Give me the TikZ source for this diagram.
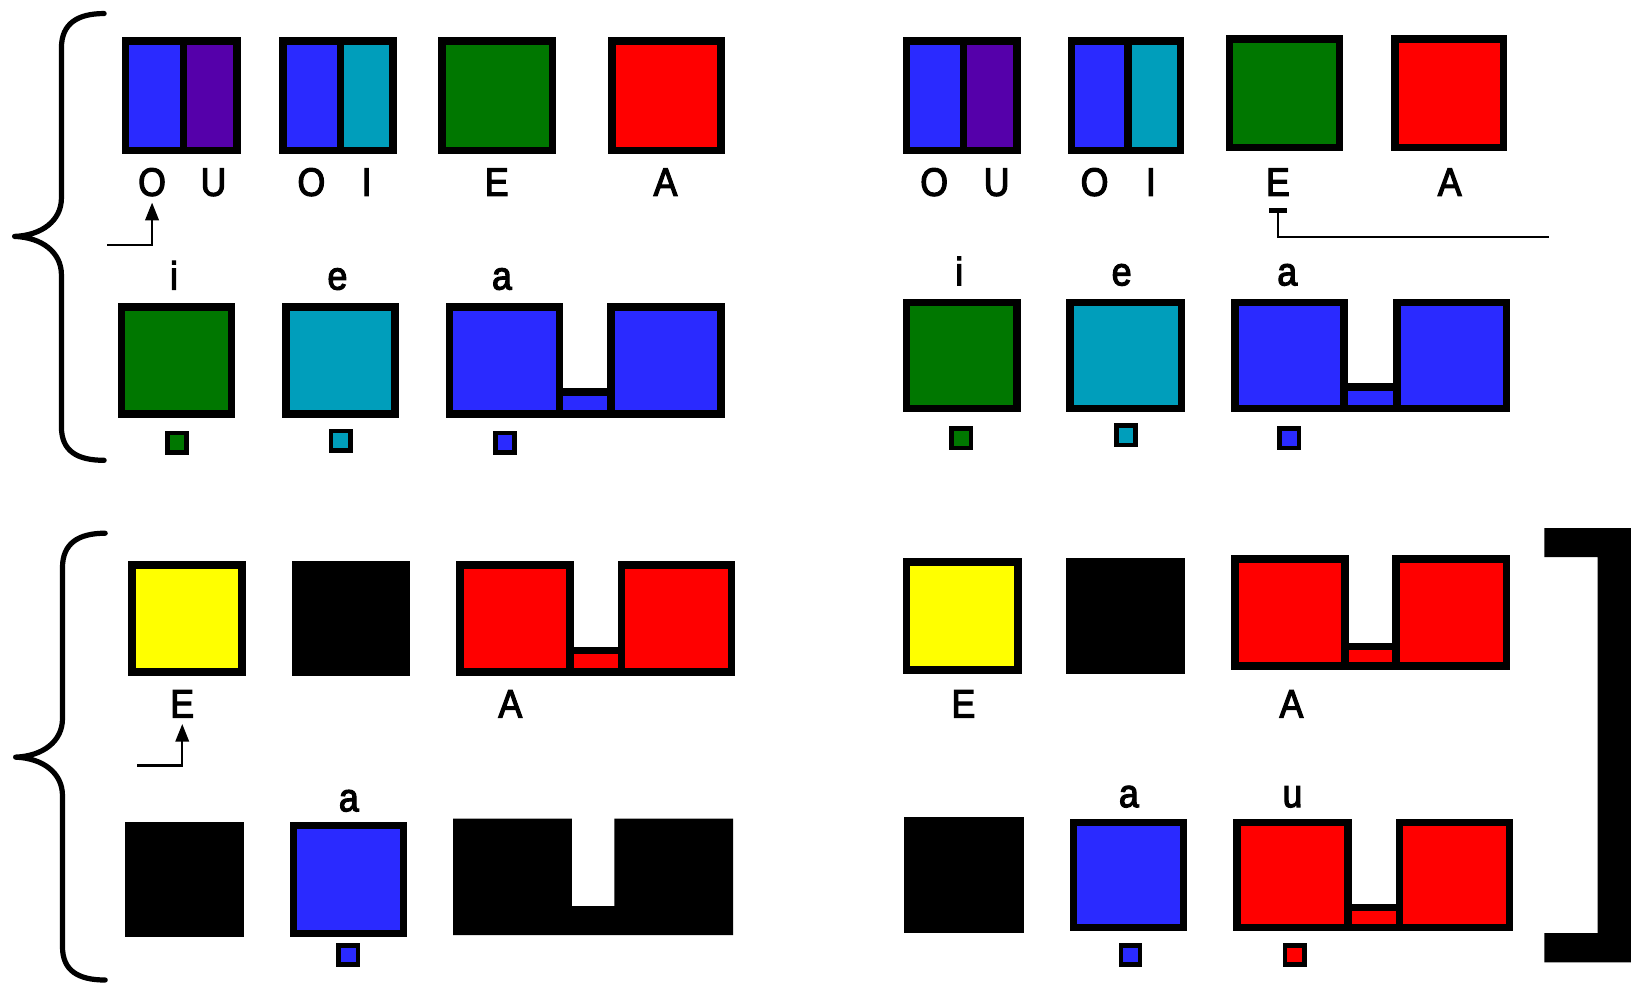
\documentclass[tikz,border=0pt]{standalone}
\usepackage{fontspec}
\setmainfont{Liberation Sans}
\newfontfamily\lblfont[FakeStretch=0.9,FakeBold=3]{Liberation Sans}
\usetikzlibrary{arrows.meta}
\definecolor{vblue}{HTML}{2A2AFF}
\definecolor{vpurple}{HTML}{5500AA}
\definecolor{vteal}{HTML}{009EBB}
\definecolor{vgreen}{HTML}{007700}
\definecolor{vred}{HTML}{FF0000}
\definecolor{vyellow}{HTML}{FFFF00}
% name, x1, y1, x2, y2, fill   (outer edges; border 7.2)
\newcommand\cellnode[6]{%
  \node[cell,fill=#6,anchor=north west,
    minimum width={((#4)-(#2)-7.2)*1pt},minimum height={((#5)-(#3)-7.2)*1pt}]
    (#1) at ({(#2)+3.6},{(#3)+3.6}) {};}
% name, x1, y1, x2, y2, xmid, left colour, right colour
\newcommand\splitnode[8]{%
  \fill[#7] ({(#2)+3},{(#3)+3}) rectangle (#6,{(#5)-3});
  \fill[#8] (#6,{(#3)+3}) rectangle ({(#4)-3},{(#5)-3});
  \cellnode{#1}{#2}{#3}{#4}{#5}{none}
  \draw[line width=7.2pt] (#6,#3) -- (#6,#5);}
% name, x1, y1, x2, y2, x3, x4, conn top, colour
\newcommand\dblnode[9]{%
  \cellnode{#1-c}{#4-7.2}{#8}{#6+7.2}{#5}{#9}
  \cellnode{#1-l}{#2}{#3}{#4}{#5}{#9}
  \cellnode{#1-r}{#6}{#3}{#7}{#5}{#9}}
% name, x1, y1, x2, y2
\newcommand\blacknode[5]{%
  \node[fill=black,draw=none,inner sep=0pt,outer sep=0pt,anchor=north west,
    minimum width={((#4)-(#2))*1pt},minimum height={((#5)-(#3))*1pt}]
    (#1) at (#2,#3) {};}
\begin{document}
\begin{tikzpicture}[x=1pt,y=-1pt,
  cell/.style={draw=black,line width=7.2pt,inner sep=0pt,outer sep=0pt},
  tiny/.style={draw=black,line width=4.5pt,inner sep=0pt,minimum size=18.5pt},
  lbl/.style={anchor=base,inner sep=0pt,font=\lblfont\fontsize{38}{38}\selectfont},
  conn/.style={line width=2pt},
  brace/.style={line width=5pt,line cap=round,line join=round},
]
\useasboundingbox (0,0) rectangle (1568,949);

% ================= top left =================
\draw[brace] (100,13) .. controls (74,13) and (59,23) .. (59,46) -- (59,190)
  .. controls (59,212) and (40,226) .. (14,227)
  .. controls (40,228) and (59,242) .. (59,264) -- (59,410)
  .. controls (59,433) and (74,442) .. (100,442);
\splitnode{tl-ou}{117}{36}{231}{148}{176}{vblue}{vpurple}
\splitnode{tl-oi}{268}{36}{381}{148}{327}{vblue}{vteal}
\cellnode{tl-e}{421}{36}{534}{148}{vgreen}
\cellnode{tl-a}{584}{36}{696}{148}{vred}
\node[lbl] (tl-lO1) at (146,188) {O};
\node[lbl] (tl-lU)  at (205,188) {U};
\node[lbl] (tl-lO2) at (299,188) {O};
\node[lbl] (tl-lI)  at (352,188) {I};
\node[lbl] (tl-lE)  at (477,188) {E};
\node[lbl] (tl-lA)  at (639,188) {A};
\coordinate (tl-start) at (103,235);
\draw[conn,-{Triangle[width=13pt,length=17pt]}] (tl-start) -| ([yshift=-6pt]tl-lO1.south);
\node[lbl] (tl-li) at (167,278) {i};
\node[lbl] (tl-le) at (324,278) {e};
\node[lbl] (tl-la) at (482,278) {a};
\cellnode{tl-g}{113}{291}{226}{401}{vgreen}
\cellnode{tl-t}{271}{291}{383}{401}{vteal}
\dblnode{tl-b}{428}{291}{541}{401}{583}{696}{373}{vblue}
\node[tiny,fill=vgreen] (tl-sg) at (170,425) {};
\node[tiny,fill=vteal]  (tl-st) at (327,423) {};
\node[tiny,fill=vblue]  (tl-sb) at (485,425) {};

% ================= top right =================
\splitnode{tr-ou}{867}{36}{980}{148}{925}{vblue}{vpurple}
\splitnode{tr-oi}{1025}{36}{1137}{148}{1083}{vblue}{vteal}
\cellnode{tr-e}{1177}{34}{1290}{145}{vgreen}
\cellnode{tr-a}{1336}{34}{1447}{145}{vred}
\node[lbl] (tr-lO1) at (897,188) {O};
\node[lbl] (tr-lU)  at (957,188) {U};
\node[lbl] (tr-lO2) at (1051,188) {O};
\node[lbl] (tr-lI)  at (1105,188) {I};
\node[lbl] (tr-lE)  at (1227,188) {E};
\node[lbl] (tr-lA)  at (1392,188) {A};
\coordinate (tr-end) at (1487,228);
\draw[conn,{Bar[width=17pt,line width=4.5pt]}-] ([yshift=-12pt]tr-lE.south) |- (tr-end);
\node[lbl] (tr-li) at (921,274) {i};
\node[lbl] (tr-le) at (1077,274) {e};
\node[lbl] (tr-la) at (1236,274) {a};
\cellnode{tr-g}{867}{287}{980}{396}{vgreen}
\cellnode{tr-t}{1024}{287}{1138}{396}{vteal}
\dblnode{tr-b}{1182}{287}{1294}{396}{1338}{1450}{368}{vblue}
\node[tiny,fill=vgreen] (tr-sg) at (923,421) {};
\node[tiny,fill=vteal]  (tr-st) at (1081,418) {};
\node[tiny,fill=vblue]  (tr-sb) at (1238,421) {};

% ================= bottom left =================
\draw[brace] (101,512) .. controls (75,512) and (60,522) .. (60,545) -- (60,690)
  .. controls (60,712) and (41,726) .. (15,727)
  .. controls (41,728) and (60,742) .. (60,764) -- (60,909)
  .. controls (60,932) and (75,941) .. (101,941);
\cellnode{bl-y}{123}{539}{236}{649}{vyellow}
\blacknode{bl-k}{280}{539}{394}{649}
\dblnode{bl-r}{438}{539}{551}{649}{593}{706}{621}{vred}
\node[lbl] (bl-lE) at (175,689) {E};
\node[lbl] (bl-lA) at (490,689) {A};
\coordinate (bl-start) at (132,735);
\draw[conn,-{Triangle[width=13pt,length=17pt]}] (bl-start) -| ([yshift=-6pt]bl-lE.south);
\node[lbl] (bl-la) at (335,779) {a};
\blacknode{bl-k2}{120}{789}{234}{900}
\cellnode{bl-bl}{278}{789}{391}{900}{vblue}
\fill[black] (435,786) -- (549,786) -- (549,870) -- (590,870) -- (590,786)
  -- (704,786) -- (704,898) -- (435,898) -- cycle;
\node[tiny,fill=vblue] (bl-sb) at (334.5,917) {};

% ================= bottom right =================
\cellnode{br-y}{867}{536}{981}{647}{vyellow}
\blacknode{br-k}{1024}{536}{1138}{647}
\dblnode{br-r}{1182}{533}{1295}{643}{1337}{1450}{617}{vred}
\node[lbl] (br-lE) at (925,689) {E};
\node[lbl] (br-lA) at (1240,689) {A};
\node[lbl] (br-la) at (1084,775) {a};
\node[lbl] (br-lu) at (1241,775) {u};
\blacknode{br-k2}{868}{784}{983}{896}
\cellnode{br-bl}{1027}{786}{1140}{894}{vblue}
\dblnode{br-r2}{1184}{786}{1298}{894}{1340}{1453}{868}{vred}
\node[tiny,fill=vblue] (br-sb) at (1085.5,917) {};
\node[tiny,fill=vred]  (br-sr) at (1243,917) {};

% right bracket
\fill[black] (1483,507) -- (1566,507) -- (1566,924) -- (1483,924) -- (1483,896)
  -- (1534,896) -- (1534,535) -- (1483,535) -- cycle;
\end{tikzpicture}
\end{document}
